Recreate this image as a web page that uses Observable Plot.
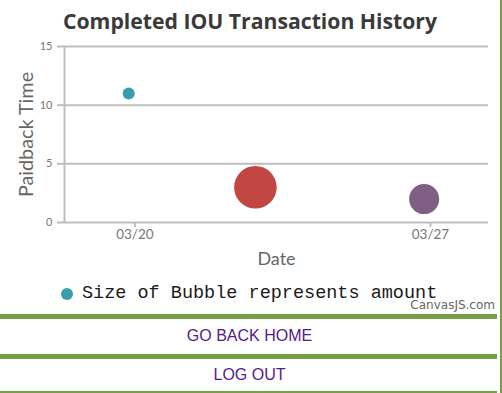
<!DOCTYPE html>
<html><head><meta charset="utf-8">
<script src="https://cdn.jsdelivr.net/npm/d3@7"></script>
<script src="https://cdn.jsdelivr.net/npm/@observablehq/plot@0.6"></script>
<style>
html,body{margin:0;padding:0;background:#fff;}
body{width:502px;height:393px;position:relative;overflow:hidden;}
#title{position:absolute;left:0;top:6px;width:500px;text-align:center;font:bold 21.2px "Open Sans",sans-serif;line-height:29px;color:#3a3a3a;white-space:nowrap;}
#chart{position:absolute;left:0;top:36px;}
#legend{position:absolute;left:61px;top:283px;height:21px;line-height:21px;font:18.5px "Liberation Mono",monospace;color:#1a1a1a;white-space:nowrap;}
#legend .dot{position:absolute;left:0;top:4.5px;width:12px;height:12px;border-radius:50%;background:#369EAD;}
#legend .txt{position:absolute;left:21px;top:0;}
#credit{position:absolute;right:7px;top:298px;font:12px "DejaVu Sans",sans-serif;line-height:14px;color:#666;}
.bar{position:absolute;left:0;width:497px;background:#76a043;}
.vbar{position:absolute;left:500px;top:0;width:2px;height:393px;background:#76a043;}
.btn{position:absolute;left:0;width:499px;text-align:center;font:16px "Liberation Sans",Arial,sans-serif;color:#551a8b;}
</style></head><body>
<div id="title">Completed IOU Transaction History</div>
<div id="chart"></div>
<div id="legend"><span class="dot"></span><span class="txt">Size of Bubble represents amount</span></div>
<div id="credit">CanvasJS.com</div>
<div class="bar" style="top:314px;height:5px"></div>
<div class="btn" style="top:319px;height:34px;line-height:34px">GO BACK HOME</div>
<div class="bar" style="top:354px;height:5px"></div>
<div class="btn" style="top:359px;height:32px;line-height:32px">LOG OUT</div>
<div class="bar" style="top:391px;height:2px"></div>
<div class="vbar"></div>
<script>
// Data
const dates = ["2018-03-19T20:30Z", "2018-03-22T20:30Z", "2018-03-26T20:25Z"];
const paidbackTime = [11, 3, 2];
const amounts = [8, 100, 50];
const xTickDates = ["2018-03-20T00:00Z", "2018-03-27T00:00Z"];
const yTicks = [0, 5, 10, 15];
const palette = ["#369EAD", "#C24642", "#7F6084"];

const data = dates.map((d, i) => ({date: new Date(d), time: paidbackTime[i], amount: amounts[i], color: palette[i]}));
const xDomain = [new Date("2018-03-18T08:00Z"), new Date("2018-03-28T09:00Z")];
const gridColor = "#bebebe";

const chart = Plot.plot({
  width: 497, height: 240,
  marginTop: 10, marginBottom: 54, marginLeft: 64, marginRight: 9,
  style: {fontFamily: "Lato, sans-serif", background: "transparent", overflow: "visible"},
  x: {type: "utc", domain: xDomain},
  y: {domain: [0, 15]},
  r: {type: "sqrt", domain: [0, 100], range: [0, 21.3]},
  color: {type: "identity"},
  marks: [
    Plot.gridY({ticks: yTicks, stroke: gridColor, strokeOpacity: 1, strokeWidth: 2}),
    Plot.ruleX([xDomain[0]], {stroke: gridColor, strokeWidth: 2}),
    Plot.axisY({ticks: yTicks, tickSize: 7, tickPadding: 5, stroke: gridColor, strokeWidth: 2, fill: "#777", fontSize: 11, label: null}),
    Plot.axisX({ticks: xTickDates.map(d => new Date(d)), tickSize: 5, tickPadding: 2.4, tickFormat: d3.utcFormat("%m/%d"), stroke: gridColor, strokeWidth: 2, fill: "#777", fontSize: 13.5, label: null}),
    Plot.dot(data, {x: "date", y: "time", r: "amount", fill: "color"}),
    Plot.text(["Date"], {frameAnchor: "bottom", dy: 42, lineAnchor: "bottom", fontSize: 18, fill: "#666"}),
    Plot.text(["Paidback Time"], {frameAnchor: "left", dx: -32, rotate: -90, textAnchor: "middle", lineAnchor: "bottom", fontSize: 19.8, fill: "#666"})
  ]
});
document.getElementById("chart").appendChild(chart);
</script>
</body></html>
